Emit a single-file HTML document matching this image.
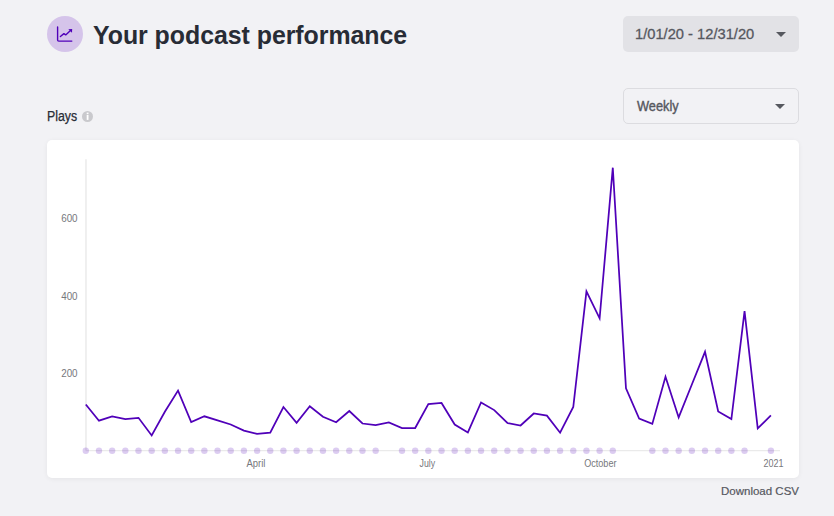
<!DOCTYPE html>
<html><head><meta charset="utf-8">
<style>
*{margin:0;padding:0;box-sizing:border-box}
html,body{width:834px;height:516px;overflow:hidden;background:#f2f2f5;font-family:"Liberation Sans",sans-serif}
.abs{position:absolute}
#icon{left:47px;top:16px;width:36px;height:36px;border-radius:50%;background:#d5c4ea}
#title{left:93px;top:20.1px;font-size:24.9px;letter-spacing:-0.03px;font-weight:bold;color:#282c35;white-space:nowrap;line-height:30px}
#date{left:623px;top:16px;width:176px;height:36px;border-radius:5px;background:#e2e2e6}
#date span{position:absolute;left:12px;top:9.5px;font-size:14.7px;color:#56585f;-webkit-text-stroke:0.3px #56585f;white-space:nowrap;line-height:16px}
.caret{position:absolute;width:0;height:0;border-left:5px solid transparent;border-right:5px solid transparent;border-top:5px solid #56585f}
#weekly{left:623px;top:88px;width:176px;height:36px;border-radius:5px;border:1px solid #dcdce0}
#weekly span{position:absolute;left:13px;top:8.5px;font-size:14.2px;color:#56585f;white-space:nowrap;line-height:16px;-webkit-text-stroke:0.4px #56585f;transform:scaleX(0.9);transform-origin:0 0}
#plays{left:47px;top:108px;font-size:14px;color:#282c35;line-height:16px;-webkit-text-stroke:0.25px #282c35;transform:scaleX(0.88);transform-origin:0 0}
#info{left:82px;top:111px;width:11px;height:11px;border-radius:50%;background:#c9c9cd}
#card{left:47px;top:140px;width:752px;height:338px;border-radius:5px;background:#fff;box-shadow:0 1px 5px rgba(0,0,0,0.06)}
#dl{left:721px;top:484.2px;font-size:11.5px;color:#56585f;-webkit-text-stroke:0.2px #56585f;white-space:nowrap;line-height:14px}
svg{position:absolute;left:0;top:0}
.yl{font-size:10px;fill:#76777c}
</style></head><body>
<div class="abs" id="icon">
<svg width="36" height="36" viewBox="0 0 36 36" style="position:absolute;left:0;top:0">
<path d="M10.6 10.9 V24 Q10.6 25.1 11.7 25.1 H24.8" fill="none" stroke="#5000b9" stroke-width="1.4" stroke-linecap="round"/>
<path d="M13.4 20.5 L16.9 17.6 L18.7 18.9 L23.5 14.6" fill="none" stroke="#5000b9" stroke-width="1.4" stroke-linecap="round" stroke-linejoin="round"/>
<path d="M21.3 13.2 L25.2 12.9 L25 16.8 Z" fill="#5000b9"/>
</svg>
</div>
<div class="abs" id="title">Your podcast performance</div>
<div class="abs" id="date"><span>1/01/20 - 12/31/20</span><div class="caret" style="left:153px;top:16px"></div></div>
<div class="abs" id="weekly"><span>Weekly</span><div class="caret" style="left:151px;top:15px"></div></div>
<div class="abs" id="plays">Plays</div>
<div class="abs" id="info"><svg width="11" height="11" viewBox="82 111 11 11" style="position:absolute;left:0;top:0"><rect x="86.7" y="112.6" width="1.8" height="1.5" fill="#fff"/><rect x="86.7" y="114.9" width="1.8" height="5" fill="#fff"/></svg></div>
<div class="abs" id="card"></div>
<svg width="834" height="516" viewBox="0 0 834 516">
<line x1="86" y1="159.3" x2="86" y2="450.6" stroke="#ececec" stroke-width="1.6"/>
<line x1="85.8" y1="450.6" x2="780" y2="450.6" stroke="#eaeaea" stroke-width="1.4"/>
<g fill="#5000b9" fill-opacity="0.2">
<circle cx="85.80" cy="450.8" r="3.2"/>
<circle cx="98.97" cy="450.8" r="3.2"/>
<circle cx="112.15" cy="450.8" r="3.2"/>
<circle cx="125.33" cy="450.8" r="3.2"/>
<circle cx="138.50" cy="450.8" r="3.2"/>
<circle cx="151.68" cy="450.8" r="3.2"/>
<circle cx="164.85" cy="450.8" r="3.2"/>
<circle cx="178.03" cy="450.8" r="3.2"/>
<circle cx="191.20" cy="450.8" r="3.2"/>
<circle cx="204.38" cy="450.8" r="3.2"/>
<circle cx="217.55" cy="450.8" r="3.2"/>
<circle cx="230.73" cy="450.8" r="3.2"/>
<circle cx="243.90" cy="450.8" r="3.2"/>
<circle cx="257.07" cy="450.8" r="3.2"/>
<circle cx="270.25" cy="450.8" r="3.2"/>
<circle cx="283.43" cy="450.8" r="3.2"/>
<circle cx="296.60" cy="450.8" r="3.2"/>
<circle cx="309.78" cy="450.8" r="3.2"/>
<circle cx="322.95" cy="450.8" r="3.2"/>
<circle cx="336.12" cy="450.8" r="3.2"/>
<circle cx="349.30" cy="450.8" r="3.2"/>
<circle cx="362.48" cy="450.8" r="3.2"/>
<circle cx="375.65" cy="450.8" r="3.2"/>
<circle cx="402.00" cy="450.8" r="3.2"/>
<circle cx="415.18" cy="450.8" r="3.2"/>
<circle cx="428.35" cy="450.8" r="3.2"/>
<circle cx="441.53" cy="450.8" r="3.2"/>
<circle cx="454.70" cy="450.8" r="3.2"/>
<circle cx="467.88" cy="450.8" r="3.2"/>
<circle cx="481.05" cy="450.8" r="3.2"/>
<circle cx="494.23" cy="450.8" r="3.2"/>
<circle cx="507.40" cy="450.8" r="3.2"/>
<circle cx="520.58" cy="450.8" r="3.2"/>
<circle cx="533.75" cy="450.8" r="3.2"/>
<circle cx="546.92" cy="450.8" r="3.2"/>
<circle cx="560.10" cy="450.8" r="3.2"/>
<circle cx="573.27" cy="450.8" r="3.2"/>
<circle cx="586.45" cy="450.8" r="3.2"/>
<circle cx="599.62" cy="450.8" r="3.2"/>
<circle cx="612.80" cy="450.8" r="3.2"/>
<circle cx="652.32" cy="450.8" r="3.2"/>
<circle cx="665.50" cy="450.8" r="3.2"/>
<circle cx="678.67" cy="450.8" r="3.2"/>
<circle cx="691.85" cy="450.8" r="3.2"/>
<circle cx="705.02" cy="450.8" r="3.2"/>
<circle cx="718.20" cy="450.8" r="3.2"/>
<circle cx="731.38" cy="450.8" r="3.2"/>
<circle cx="744.55" cy="450.8" r="3.2"/>
<circle cx="770.90" cy="450.8" r="3.2"/>
</g>
<polyline points="85.80,404.50 98.97,420.70 112.15,416.40 125.33,419.10 138.50,417.80 151.68,435.40 164.85,411.80 178.03,390.60 191.20,422.00 204.38,416.30 217.55,420.40 230.73,424.50 243.90,430.60 257.07,433.80 270.25,432.60 283.43,407.00 296.60,422.80 309.78,406.30 322.95,416.80 336.12,422.20 349.30,411.00 362.48,423.50 375.65,425.10 388.83,422.50 402.00,428.00 415.18,428.00 428.35,404.10 441.53,403.00 454.70,424.50 467.88,432.40 481.05,402.50 494.23,410.10 507.40,423.00 520.58,425.50 533.75,413.50 546.92,415.60 560.10,432.70 573.27,407.00 586.45,291.40 599.62,318.30 612.80,167.70 625.98,388.40 639.15,418.60 652.32,423.90 665.50,376.80 678.67,417.40 691.85,384.50 705.02,351.80 718.20,411.40 731.38,419.00 744.55,311.20 757.73,428.40 770.90,415.40" fill="none" stroke="#5000b9" stroke-width="1.75" stroke-linejoin="miter"/>
<g class="yl">
<text x="61.2" y="221.9" textLength="16.4" lengthAdjust="spacingAndGlyphs">600</text>
<text x="61.2" y="300.4" textLength="16.4" lengthAdjust="spacingAndGlyphs">400</text>
<text x="61.2" y="376.9" textLength="16.4" lengthAdjust="spacingAndGlyphs">200</text>
<text x="246.4" y="466.8" textLength="19" lengthAdjust="spacingAndGlyphs">April</text>
<text x="419.6" y="466.8" textLength="15.6" lengthAdjust="spacingAndGlyphs">July</text>
<text x="584.2" y="466.8" textLength="32.3" lengthAdjust="spacingAndGlyphs">October</text>
<text x="763.5" y="466.8" textLength="20" lengthAdjust="spacingAndGlyphs">2021</text>
</g>
</svg>
<div class="abs" id="dl">Download CSV</div>
</body></html>
